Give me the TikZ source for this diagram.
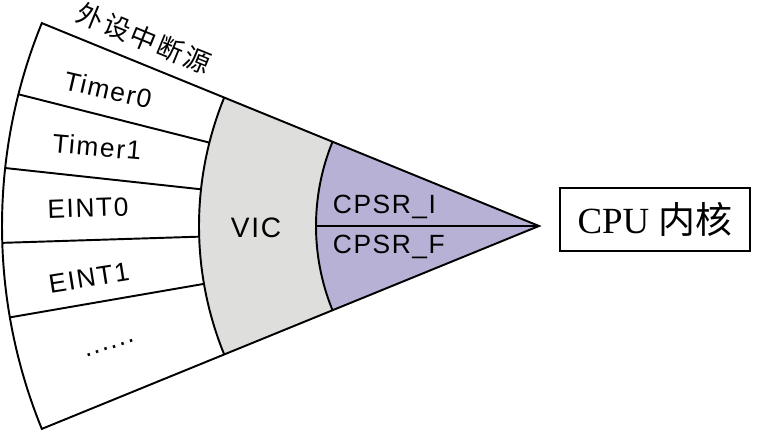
\documentclass[tikz,border=0pt]{standalone}
\usepackage{fontspec}
\setmainfont{Liberation Serif}
\newfontfamily\labelfont[LetterSpace=6]{Liberation Sans}
\newfontfamily\cjk[LetterSpace=10]{Noto Sans CJK SC}
\newfontfamily\cjkbox{Noto Sans CJK SC}
\definecolor{vicgray}{RGB}{222,222,220}
\definecolor{cpsrpurple}{RGB}{183,177,214}
\tikzset{
every picture/.style={line width=1.1pt},
src/.style={font=\labelfont\fontsize{15}{15}\selectfont, inner sep=0pt},
vic/.style={font=\labelfont\fontsize{16}{16}\selectfont},
cpsr/.style={font=\labelfont\fontsize{15}{15}\selectfont, anchor=west, inner sep=0pt},
core/.style={draw, line width=1.5pt, minimum width=3.8cm, minimum height=1.26cm, font=\fontsize{21}{21}\selectfont}
}

\begin{document}
\begin{tikzpicture}
    \useasboundingbox (-10.78,-4.10) rectangle (4.36,4.52);
    \fill[vicgray] (157.8:6.8) arc[start angle=157.8, end angle=202.2, radius=6.8]
      -- (202.2:4.46) arc[start angle=202.2, end angle=157.8, radius=4.46] -- cycle;
    \fill[cpsrpurple] (0,0) -- (157.8:4.46) arc[start angle=157.8, end angle=202.2, radius=4.46] -- cycle;
    \draw (0,0) -- (157.8:10.74) arc[start angle=157.8, end angle=202.2, radius=10.74] -- cycle;
    \draw (157.8:6.8) arc[start angle=157.8, end angle=202.2, radius=6.8];
    \draw (157.8:4.46) arc[start angle=157.8, end angle=202.2, radius=4.46];
    \draw (180:4.46) -- (0,0);
    \foreach \a in {165.8,173.8,181.8,189.8}
      \draw (\a:6.8) -- (\a:10.74);

    \node[font=\cjk\fontsize{15}{15}\selectfont, rotate=-22.2, inner sep=0pt] (title) at (-7.90,3.76) {外设中断源};
    \node[src, rotate=-13] (timer0) at (-8.62,2.72) {Timer0};
    \node[src, rotate=-5] (timer1) at (-8.84,1.58) {Timer1};
    \node[src, rotate=2] (eint0) at (-9.02,0.36) {EINT0};
    \node[src, rotate=9] (eint1) at (-9.0,-1.04) {EINT1};
    \node[src, rotate=18] (more) at (-8.58,-2.44) {......};
    \node[vic] (vic) at (-5.66,-0.04) {VIC};
    \node[cpsr] (cpsri) at (-4.14,0.38) {CPSR\_I};
    \node[cpsr] (cpsrf) at (-4.14,-0.42) {CPSR\_F};
    \node[core] (cpu) at (2.32,0.13) {CPU {\cjkbox 内核}};
  \end{tikzpicture}
\end{document}
